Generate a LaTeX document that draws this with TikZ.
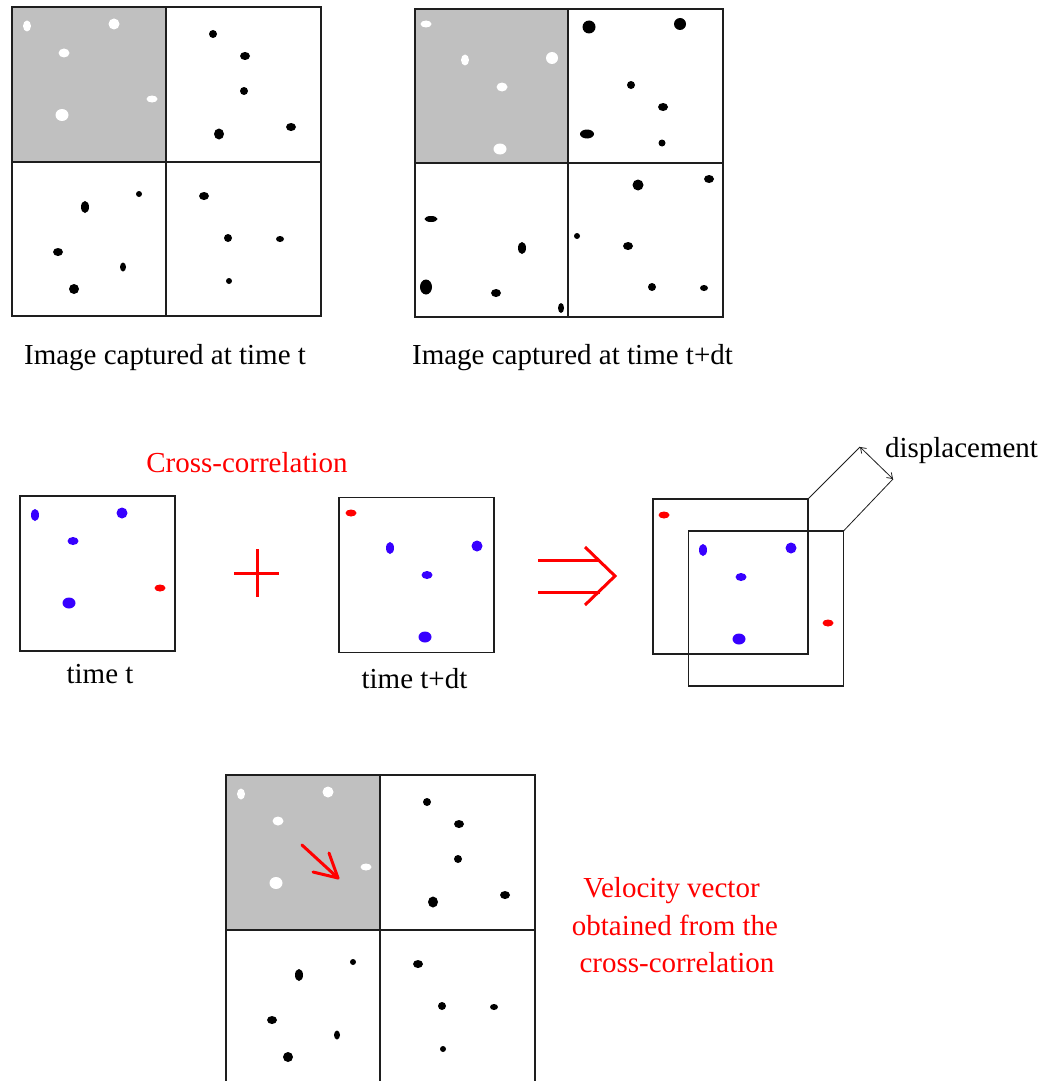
\documentclass[tikz,border=0pt]{standalone}
\usepackage{fontspec}
\setmainfont{Liberation Serif}
\usetikzlibrary{arrows.meta}
\definecolor{pblue}{RGB}{55,0,255}
\definecolor{pgray}{RGB}{192,192,192}
\definecolor{pline}{RGB}{30,30,30}
\newcommand\pdot[5]{\fill[#1] (#2,#3) ellipse [x radius=#4, y radius=#5];}
\newcommand\gridA{%
  \fill[pgray] (12,7) rectangle (166,162);
  \draw[frame] (12,7) rectangle (321,316);
  \draw[frame] (166,7) -- (166,316);
  \draw[frame] (12,162) -- (321,162);
  \pdot{white}{27}{26}{4}{5.5}
  \pdot{white}{114}{24}{5.5}{5.5}
  \pdot{white}{64}{53}{5.5}{4.5}
  \pdot{white}{152}{99}{5.5}{3.5}
  \pdot{white}{62}{115}{6.5}{6}
  \pdot{black}{213}{34}{4}{4}
  \pdot{black}{245}{56}{5}{4}
  \pdot{black}{244}{91}{4}{4}
  \pdot{black}{219}{134}{5}{5.5}
  \pdot{black}{291}{127}{5}{4}
  \pdot{black}{85}{207}{4}{6}
  \pdot{black}{139}{194}{3}{3}
  \pdot{black}{58}{252}{5}{4}
  \pdot{black}{123}{267}{3}{4.5}
  \pdot{black}{74}{289}{5}{5}
  \pdot{black}{204}{196}{5}{4}
  \pdot{black}{228}{238}{4}{4}
  \pdot{black}{280}{239}{4}{3}
  \pdot{black}{229}{281}{3}{3}
}
\tikzset{
  frame/.style={draw=pline, line width=1.7pt},
  sq/.style={frame, minimum width=155pt, minimum height=155pt, inner sep=0pt, outer sep=0pt},
  lbl/.style={font=\fontsize{29}{35}\selectfont, inner sep=0pt, anchor=base},
  rlbl/.style={lbl, text=red},
  redline/.style={draw=red, line width=3pt},
  thinline/.style={draw=pline, line width=0.8pt},
}
\begin{document}
\begin{tikzpicture}[x=1pt,y=-1pt]
\useasboundingbox (0,0) rectangle (1053,1081);
\fill[white] (0,0) rectangle (1053,1081);

% ---- top-left grid (time t)
\gridA
\node[lbl] (capA) at (165,364) {Image captured at time t};

% ---- top-right grid (time t+dt)
\fill[pgray] (415,9) rectangle (568,163);
\draw[frame] (415,9) rectangle (723,317);
\draw[frame] (568,9) -- (568,317);
\draw[frame] (415,163) -- (723,163);
\pdot{white}{426}{24}{5.5}{3.5}
\pdot{white}{465}{60}{4}{5.5}
\pdot{white}{552}{58}{6}{6}
\pdot{white}{502}{87}{5.5}{4.5}
\pdot{white}{500}{149}{6.5}{5.5}
\pdot{black}{589}{27}{6.5}{6.5}
\pdot{black}{680}{24}{6}{6}
\pdot{black}{631}{85}{4}{4}
\pdot{black}{663}{107}{5}{4}
\pdot{black}{587}{134}{7}{4.5}
\pdot{black}{662}{143}{3.5}{3.5}
\pdot{black}{431}{219}{6.5}{3}
\pdot{black}{522}{248}{4}{6}
\pdot{black}{426}{287}{6}{7.5}
\pdot{black}{496}{293}{5}{4}
\pdot{black}{561}{308}{3}{5}
\pdot{black}{638}{185}{5.5}{5.5}
\pdot{black}{709}{179}{5}{4}
\pdot{black}{577}{236}{3}{3}
\pdot{black}{628}{246}{5}{4}
\pdot{black}{652}{287}{4}{4}
\pdot{black}{704}{288}{4}{3}
\node[lbl] (capB) at (572.5,364) {Image captured at time t+dt};

% ---- middle row
\node[rlbl] (cc) at (247,472) {Cross-correlation};

\node[sq] (bt) at (97.5,573.5) {};
\pdot{pblue}{35}{515}{4}{6}
\pdot{pblue}{122}{513}{5.5}{5.5}
\pdot{pblue}{73}{541}{5.5}{4}
\pdot{pblue}{69}{603}{6.5}{5.5}
\pdot{red}{160}{588}{5.5}{3.5}
\node[lbl] (tt) at (100,683) {time t};

\draw[redline] (234,573) -- (279,573);
\draw[redline] (257,549) -- (257,597);

\node[sq] (btd) at (416.5,575) {};
\pdot{red}{351}{513}{5.5}{3.5}
\pdot{pblue}{390}{548}{4}{6}
\pdot{pblue}{477}{546}{5.5}{5.5}
\pdot{pblue}{427}{575}{5.5}{4}
\pdot{pblue}{425}{637}{6.5}{5.5}
\node[lbl] (ttd) at (414.5,688) {time t+dt};

\draw[redline] (538,560) -- (600,560);
\draw[redline] (538,592) -- (600,592);
\draw[redline, line join=miter] (585,547) -- (615,576) -- (585,605);

\node[sq] (b1) at (730.5,576.5) {};
\node[sq] (b2) at (766,608.5) {};
\pdot{red}{664}{515}{5.5}{3.5}
\pdot{pblue}{703}{550}{4}{6}
\pdot{pblue}{791}{548}{5.5}{5.5}
\pdot{pblue}{741}{577}{5.5}{4}
\pdot{pblue}{739}{639}{6.5}{5.5}
\pdot{red}{828}{623}{5.5}{3.5}
\coordinate (d1) at (860,447);
\coordinate (d2) at (893,479);
\draw[thinline] (b1.north east) -- (d1);
\draw[thinline] (b2.north east) -- (d2);
\draw[thinline, {Straight Barb[length=5pt,width=7pt]}-{Straight Barb[length=5pt,width=7pt]}] (d1) -- (d2);
\node[lbl] (disp) at (961.5,457) {displacement};

% ---- bottom grid with velocity vector
\begin{scope}
\clip (0,0) rectangle (1053,1081);
\begin{scope}[shift={(214,768)}]
\gridA
\end{scope}
\end{scope}
\draw[redline, line cap=round, line join=round] (302,845) -- (338,878);
\draw[redline, line cap=round, line join=round] (329,853) -- (338,878) -- (313,872);
\node[rlbl] (v1) at (671.5,897) {Velocity vector};
\node[rlbl] (v2) at (675,935) {obtained from the};
\node[rlbl] (v3) at (677,972) {cross-correlation};
\end{tikzpicture}
\end{document}
